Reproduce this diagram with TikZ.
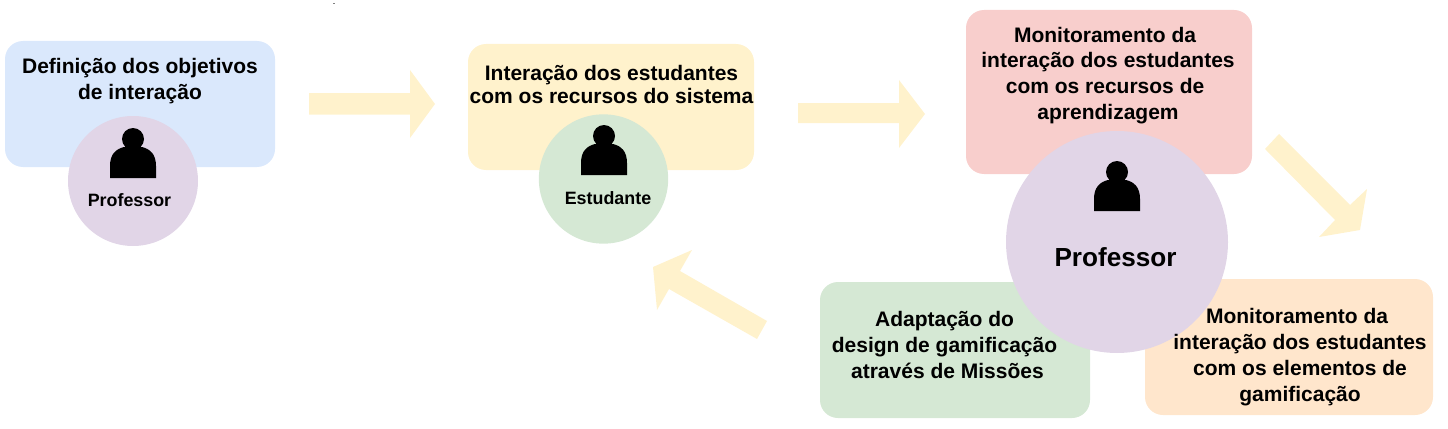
\documentclass[tikz,border=0pt]{standalone}
\usepackage{fontspec}
\setmainfont{Liberation Sans}
\usepackage{xcolor}
\usetikzlibrary{positioning}
\definecolor{boxblue}{HTML}{DAE8FC}
\definecolor{boxyellow}{HTML}{FFF2CC}
\definecolor{boxred}{HTML}{F8CECC}
\definecolor{boxorange}{HTML}{FFE6CC}
\definecolor{boxgreen}{HTML}{D5E8D4}
\definecolor{boxpurple}{HTML}{E1D5E7}

\tikzset{
  stage/.style={rounded corners=13.5pt,inner sep=0pt,outer sep=0pt},
  actor/.style={circle,inner sep=0pt,outer sep=0pt},
  stagetext/.style={align=center,inner sep=0pt,font=\fontsize{15.75pt}{19.4pt}\selectfont\bfseries},
  flow/.style={fill=boxyellow,draw=none},
  person/.pic={
    \fill[black] (0,11) circle (11);
    \fill[black] (-23,50) -- (-23,38) .. controls (-23,26) and (-17,21) .. (-9,19)
      -- (9,19) .. controls (17,21) and (23,26) .. (23,38) -- (23,50) -- cycle;
  }
}

\begin{document}
\begin{tikzpicture}[x=0.75pt,y=-0.75pt]
\useasboundingbox (0,0) rectangle (1448,428);

% boxes
\node[stage,fill=boxblue,minimum width=202.5pt,minimum height=94.5pt] (objetivos) at (140,104) {};
\node[stage,fill=boxyellow,minimum width=214.5pt,minimum height=94.5pt] (recursos) at (611,107) {};
\node[stage,fill=boxred,minimum width=214.5pt,minimum height=123pt] (monitrecursos) at (1109,92) {};
\node[stage,fill=boxorange,minimum width=216pt,minimum height=102pt] (monitgame) at (1289,347) {};
\node[stage,fill=boxgreen,minimum width=202.5pt,minimum height=102pt] (adaptacao) at (955,350) {};

% circles
\node[actor,fill=boxpurple,minimum size=97.5pt] (prof) at (133,181) {};
\node[actor,fill=boxgreen,minimum size=97pt] (estud) at (603.5,179) {};
\node[actor,fill=boxpurple,minimum size=166.5pt] (profbig) at (1117,242) {};

% icons
\pic at (133,128) {person};
\pic at (604,125) {person};
\pic at (1117,161) {person};

% texts
\node[stagetext] (tobjetivos) at (140,81.5) {Definição dos objetivos\\de interação};
\node[stagetext,font=\fontsize{15.75pt}{17.25pt}\selectfont\bfseries] (trecursos) at (611.5,84.5) {Interação dos estudantes\\com os recursos do sistema};
\node[stagetext] (tmonitrecursos) at (1108,75.5) {Monitoramento da\kern4.4pt\\interação dos estudantes\\com os recursos de\kern4.4pt\\aprendizagem};
\node[stagetext] (tmonitgame) at (1300,357) {Monitoramento da\kern4.4pt\\interação dos estudantes\\com os elementos de\\gamificação};
\node[stagetext] (tadaptacao) at (944.5,345) {Adaptação do\\design de gamificação\\\kern4.4pt através de Missões};
\node[font=\fontsize{13.4pt}{16pt}\selectfont\bfseries,inner sep=0pt] (lprof) at (129.5,200) {Professor};
\node[font=\fontsize{13.4pt}{16pt}\selectfont\bfseries,inner sep=0pt] (lestud) at (608,198) {Estudante};
\node[font=\fontsize{19.6pt}{24pt}\selectfont\bfseries,inner sep=0pt] (lprofbig) at (1115.5,257) {Professor};

% arrows
\fill[flow] (309,93) -- (410,93) -- (410,70) -- (435,104) -- (410,138) -- (410,114.5) -- (309,114.5) -- cycle;
\fill[flow] (798,103) -- (899,103) -- (899,80) -- (925,114) -- (899,148) -- (899,123) -- (798,123) -- cycle;
\fill[flow] (1279,134) -- (1350,205) -- (1367,189) -- (1360,230) -- (1319,237) -- (1335,220) -- (1265,149) -- cycle;
\fill[flow] (767,321) -- (680,271) -- (692,250) -- (653,267) -- (657,310) -- (669,289) -- (757,339) -- cycle;

% speck
\fill[gray] (333,3) rectangle (335,4);

\end{tikzpicture}
\end{document}
